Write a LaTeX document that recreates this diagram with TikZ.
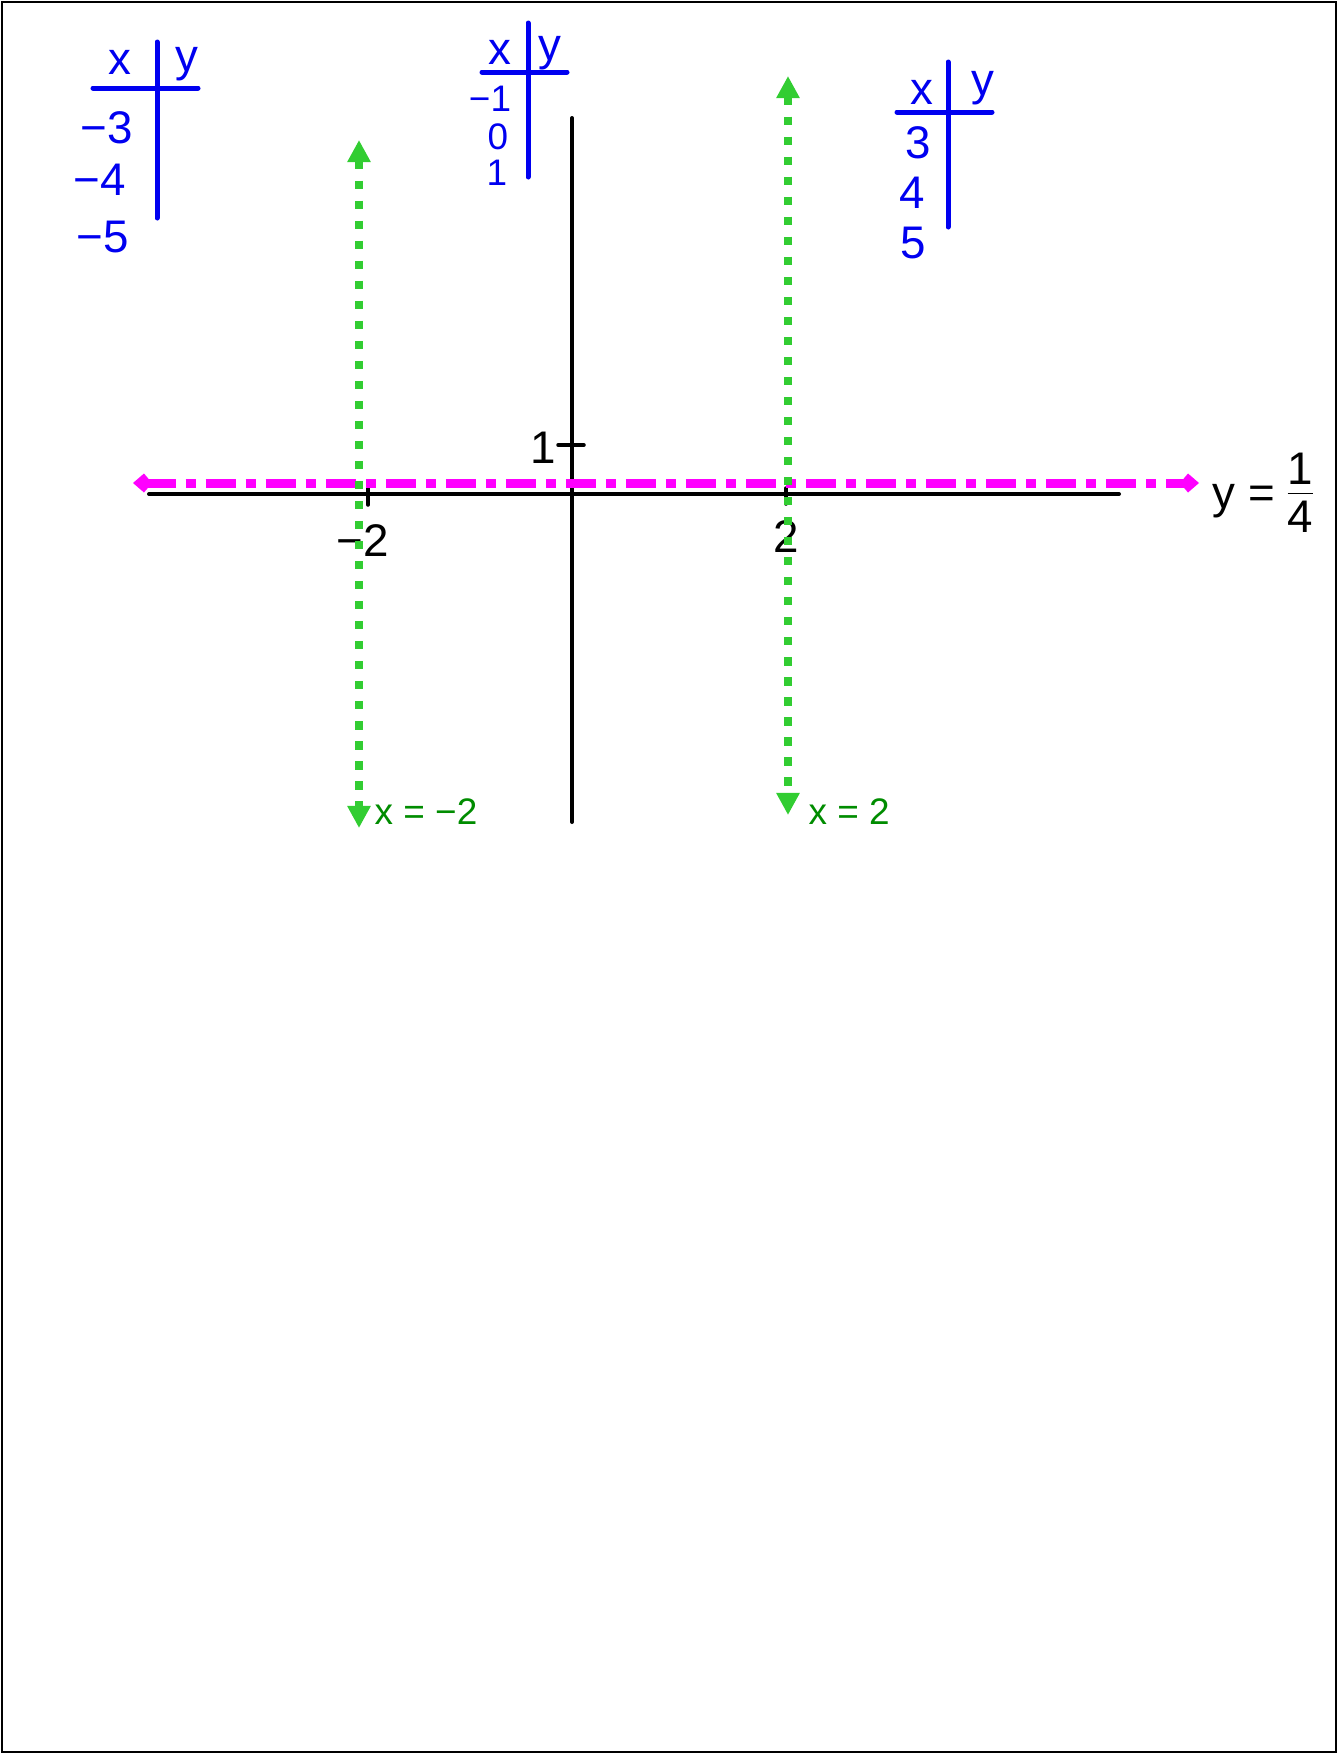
\documentclass[tikz,border=0pt]{standalone}
\usepackage{fontspec}
\setmainfont{Liberation Sans}
\usetikzlibrary{arrows.meta}

\definecolor{chartblue}{RGB}{0,0,240}
\definecolor{linemagenta}{RGB}{255,0,255}
\definecolor{linegreen}{RGB}{50,205,50}
\definecolor{labelgreen}{RGB}{0,140,0}

\begin{document}
\begin{tikzpicture}[
    x=0.01cm, y=-0.01cm,
    axis/.style={line width=0.04cm, line cap=round},
    tickmark/.style={line width=0.035cm, line cap=round},
    asymptote/.style={linemagenta, line width=0.09cm, dash pattern=on 0.3cm off 0.1cm on 0.1cm off 0.1cm,
        {Kite[length=0.19cm, width=0.19cm, inset=0.08cm]}-{Kite[length=0.19cm, width=0.19cm, inset=0.08cm]}},
    vertline/.style={linegreen, line width=0.085cm, dash pattern=on 0.085cm off 0.115cm,
        {Triangle[length=0.22cm, width=0.22cm]}-{Triangle[length=0.22cm, width=0.22cm]}},
    tchart/.style={chartblue, line width=0.05cm, line cap=round},
    entry/.style={text=chartblue, font=\fontsize{13}{15}\selectfont, inner sep=0pt},
    smallentry/.style={entry, font=\fontsize{10.5}{12}\selectfont},
    axislabel/.style={font=\fontsize{13}{15}\selectfont, inner sep=0pt},
    eqlabel/.style={text=labelgreen, font=\fontsize{10.5}{12}\selectfont, inner sep=0pt, anchor=west}
]
    \useasboundingbox (0,0) rectangle (1338,1754);
    \draw[line width=0.02cm] (2,2) rectangle (1336,1752);

    % axes
    \coordinate (xl) at (149,494);
    \coordinate (xr) at (1119,494);
    \coordinate (yt) at (572,118);
    \coordinate (yb) at (572,822);
    \draw[axis] (xl) -- (xr);
    \draw[axis] (yt) -- (yb);

    % ticks
    \coordinate (tm2a) at (368,488);
    \coordinate (tm2b) at (368,505);
    \coordinate (tp2a) at (786,488);
    \coordinate (tp2b) at (786,504);
    \coordinate (t1a) at (558,445);
    \coordinate (t1b) at (584,445);
    \draw[tickmark] (tm2a) -- (tm2b);
    \draw[tickmark] (tp2a) -- (tp2b);
    \draw[tickmark] (t1a) -- (t1b);
    \node[axislabel] (lm2) at (363,541) {−2};
    \node[axislabel] (lp2) at (786,537) {2};
    \node[axislabel] (l1) at (543,448) {1};

    % y = 1/4
    \coordinate (ml) at (133,483);
    \coordinate (mr) at (1199,483);
    \draw[asymptote] (ml) -- (mr);
    \node[axislabel, anchor=west] (yeq) at (1212,498)
        {y = \begin{tabular}{@{}c@{}}1\\[-2pt]\hline\rule{0pt}{11pt}4\end{tabular}};

    % x = -2 and x = 2
    \coordinate (gla) at (359,140);
    \coordinate (glb) at (359,828);
    \coordinate (gra) at (788,76);
    \coordinate (grb) at (788,815);
    \draw[vertline] (gla) -- (glb);
    \draw[vertline] (gra) -- (grb);
    \node[eqlabel] (xeqm) at (374,812) {x = −2};
    \node[eqlabel] (xeqp) at (808,812) {x = 2};

    % table for x < -2
    \coordinate (ah1) at (93,88);
    \coordinate (ah2) at (198,88);
    \coordinate (av1) at (157,42);
    \coordinate (av2) at (157,218);
    \draw[tchart] (ah1) -- (ah2);
    \draw[tchart] (av1) -- (av2);
    \node[entry] (ax) at (120,62) {x};
    \node[entry] (ay) at (187,64) {y};
    \node[entry] (a1) at (107,128) {−3};
    \node[entry] (a2) at (100,180) {−4};
    \node[entry] (a3) at (103,237) {−5};

    % table between the asymptotes
    \coordinate (bh1) at (482,72);
    \coordinate (bh2) at (567,72);
    \coordinate (bv1) at (528,23);
    \coordinate (bv2) at (528,177);
    \draw[tchart] (bh1) -- (bh2);
    \draw[tchart] (bv1) -- (bv2);
    \node[entry] (bx) at (500,52) {x};
    \node[entry] (by) at (550,53) {y};
    \node[smallentry] (b1) at (490,99) {−1};
    \node[smallentry] (b2) at (498,137) {0};
    \node[smallentry] (b3) at (497,173) {1};

    % table for x > 2
    \coordinate (ch1) at (897,112);
    \coordinate (ch2) at (992,112);
    \coordinate (cv1) at (948,62);
    \coordinate (cv2) at (948,227);
    \draw[tchart] (ch1) -- (ch2);
    \draw[tchart] (cv1) -- (cv2);
    \node[entry] (cx) at (922,92) {x};
    \node[entry] (cy) at (983,88) {y};
    \node[entry] (c1) at (918,143) {3};
    \node[entry] (c2) at (912,193) {4};
    \node[entry] (c3) at (913,243) {5};
\end{tikzpicture}
\end{document}
